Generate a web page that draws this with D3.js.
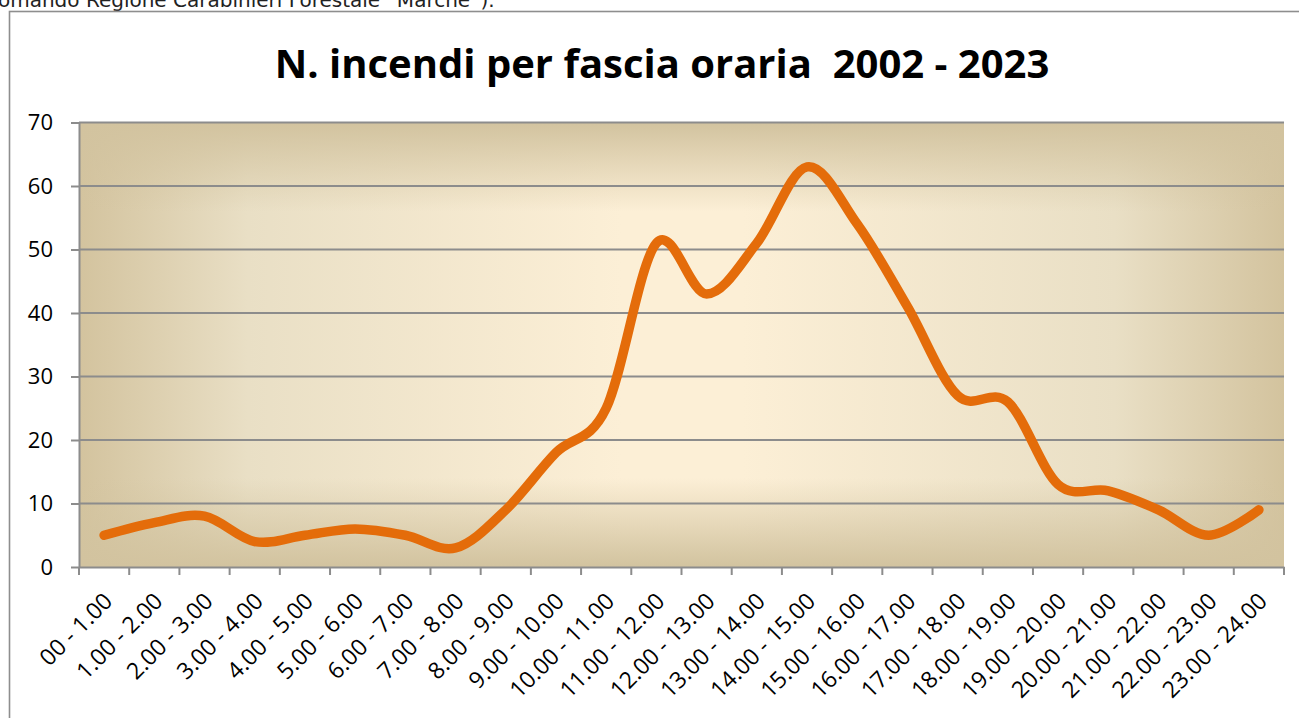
<!DOCTYPE html>
<html>
<head>
<meta charset="utf-8">
<script src="https://cdn.jsdelivr.net/npm/d3@7"></script>
<style>
body{margin:0;background:#fff;overflow:hidden}
svg{display:block}
</style>
</head>
<body>
<svg id="chart" width="1299" height="718"></svg>
<script>
// fasce orarie e numero incendi
var fasce = ["00 - 1.00","1.00 - 2.00","2.00 - 3.00","3.00 - 4.00","4.00 - 5.00","5.00 - 6.00",
  "6.00 - 7.00","7.00 - 8.00","8.00 - 9.00","9.00 - 10.00","10.00 - 11.00","11.00 - 12.00",
  "12.00 - 13.00","13.00 - 14.00","14.00 - 15.00","15.00 - 16.00","16.00 - 17.00","17.00 - 18.00",
  "18.00 - 19.00","19.00 - 20.00","20.00 - 21.00","21.00 - 22.00","22.00 - 23.00","23.00 - 24.00"]
var incendi = [5,7,8,4,5,6,5,3,9,18,25,51,43,51,63,54,41,27,26,13,12,9,5,9]
var y_ticks = [0,10,20,30,40,50,60,70]
var titolo = "N. incendi per fascia oraria  2002 - 2023"
var nota = "Comando Regione Carabinieri Forestale \u201cMarche\u201d)."

var svg = d3.select("#chart")
var plot = {left:79, right:1284, top:122.5, bottom:567}

// testo del documento tagliato in alto
svg.append("text")
  .attr("x", -16).attr("y", 7)
  .attr("font-family", "'DejaVu Sans', sans-serif")
  .attr("font-size", 20)
  .attr("fill", "#222")
  .text(nota)

// cornice del grafico
svg.append("rect")
  .attr("x", 9.5).attr("y", 11.5)
  .attr("width", 1400).attr("height", 800)
  .attr("fill", "none")
  .attr("stroke", "#8e8e8e")
  .attr("stroke-width", 1.6)

var defs = svg.append("defs")
var gh = defs.append("linearGradient").attr("id","gh").attr("x1",0).attr("x2",1).attr("y1",0).attr("y2",0)
gh.append("stop").attr("offset","0%").attr("stop-color","#d3c39e")
gh.append("stop").attr("offset","14%").attr("stop-color","#e9dfc5")
gh.append("stop").attr("offset","45%").attr("stop-color","#fcefd6")
gh.append("stop").attr("offset","55%").attr("stop-color","#fcefd6")
gh.append("stop").attr("offset","86%").attr("stop-color","#e9dfc5")
gh.append("stop").attr("offset","100%").attr("stop-color","#d3c39e")
var gv = defs.append("linearGradient").attr("id","gv").attr("x1",0).attr("x2",0).attr("y1",0).attr("y2",1)
gv.append("stop").attr("offset","0%").attr("stop-color","#d2c39f").attr("stop-opacity",1)
gv.append("stop").attr("offset","20%").attr("stop-color","#d2c39f").attr("stop-opacity",0)
gv.append("stop").attr("offset","80%").attr("stop-color","#d2c39f").attr("stop-opacity",0)
gv.append("stop").attr("offset","100%").attr("stop-color","#d2c39f").attr("stop-opacity",1)

svg.append("rect")
  .attr("x", plot.left).attr("y", plot.top)
  .attr("width", plot.right-plot.left).attr("height", plot.bottom-plot.top)
  .attr("fill", "url(#gh)")
svg.append("rect")
  .attr("x", plot.left).attr("y", plot.top)
  .attr("width", plot.right-plot.left).attr("height", plot.bottom-plot.top)
  .attr("fill", "url(#gv)")

var x = d3.scaleBand().domain(fasce).range([plot.left, plot.right])
var y = d3.scaleLinear().domain([0,70]).range([plot.bottom, plot.top])

// griglia
svg.append("g").selectAll("line").data(y_ticks.slice(1)).join("line")
  .attr("x1", plot.left).attr("x2", plot.right)
  .attr("y1", d=>y(d)).attr("y2", d=>y(d))
  .attr("stroke", "#8c8c8c").attr("stroke-width", 2)

// asse y
var yAxis = svg.append("g")
  .attr("transform", "translate(" + plot.left + ",0)")
  .call(d3.axisLeft(y).tickValues(y_ticks).tickSize(8).tickSizeOuter(0).tickPadding(18))
yAxis.select(".domain").attr("stroke", "#8c8c8c").attr("stroke-width", 2)
yAxis.selectAll(".tick line").attr("stroke", "#8c8c8c").attr("stroke-width", 2)
yAxis.selectAll("text")
  .attr("font-family", "'Open Sans', sans-serif")
  .attr("font-size", 22).attr("fill", "#000")

// asse x
var xAxis = svg.append("g")
  .attr("transform", "translate(0," + plot.bottom + ")")
  .call(d3.axisBottom(x).tickSize(0).tickSizeOuter(0))
xAxis.select(".domain").attr("stroke", "#8c8c8c").attr("stroke-width", 2)
xAxis.selectAll(".tick text")
  .attr("font-family", "'Open Sans', sans-serif")
  .attr("font-size", 23).attr("fill", "#000")
  .attr("text-anchor", "end")
  .attr("dy", "0.35em")
  .attr("transform", "translate(4,30) rotate(-45)")
  .attr("y", 0).attr("x", 0)
// tacche ai bordi delle categorie
var bordi = fasce.map(f=>x(f)).concat([plot.right])
svg.append("g").selectAll("line").data(bordi).join("line")
  .attr("x1", d=>d).attr("x2", d=>d)
  .attr("y1", plot.bottom).attr("y2", plot.bottom+8)
  .attr("stroke", "#8c8c8c").attr("stroke-width", 2)

// linea
var line = d3.line()
  .x((d,i)=>x(fasce[i]) + x.bandwidth()/2)
  .y(d=>y(d))
  .curve(d3.curveCardinal.tension(0))
svg.append("path")
  .datum(incendi)
  .attr("d", line)
  .attr("fill", "none")
  .attr("stroke", "#e46c0a")
  .attr("stroke-width", 9.5)
  .attr("stroke-linecap", "round")
  .attr("stroke-linejoin", "round")

// titolo
svg.append("text")
  .attr("x", 662).attr("y", 78)
  .attr("text-anchor", "middle")
  .attr("font-family", "'Open Sans', sans-serif")
  .attr("font-weight", "bold")
  .attr("font-size", 40)
  .attr("fill", "#000")
  .style("white-space", "pre")
  .text(titolo)
</script>
</body>
</html>
